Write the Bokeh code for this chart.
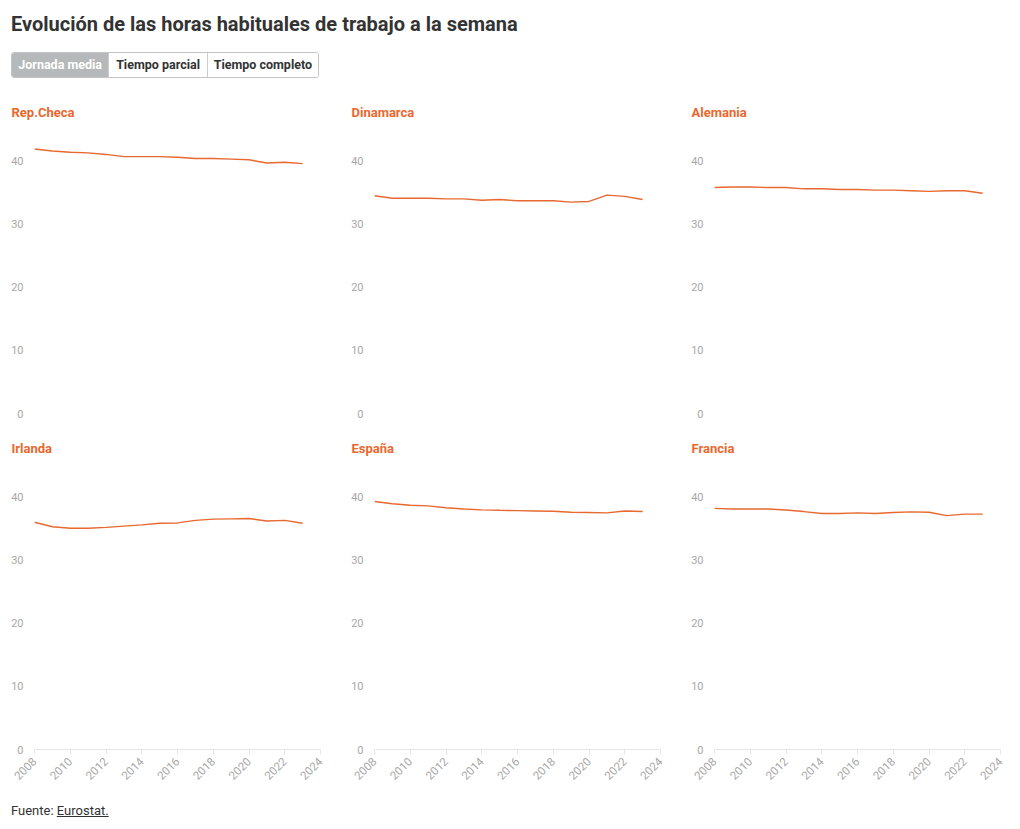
from bokeh.plotting import figure
from bokeh.layouts import column, row
from bokeh.models import Div, Range1d, FixedTicker
from bokeh.embed import file_html
from bokeh.resources import INLINE
import math

years = list(range(2008, 2024))
countries = ["Rep.Checa", "Dinamarca", "Alemania", "Irlanda", "España", "Francia"]
rep_checa = [41.9, 41.6, 41.4, 41.3, 41.05, 40.7, 40.7, 40.7, 40.6, 40.4, 40.4, 40.3, 40.2, 39.7, 39.8, 39.6]
dinamarca = [34.5, 34.1, 34.1, 34.1, 34.0, 34.0, 33.8, 33.9, 33.7, 33.7, 33.7, 33.5, 33.6, 34.6, 34.4, 33.9]
alemania = [35.8, 35.9, 35.9, 35.8, 35.8, 35.6, 35.6, 35.5, 35.5, 35.4, 35.4, 35.3, 35.2, 35.3, 35.3, 34.9]
irlanda = [36.0, 35.3, 35.05, 35.05, 35.2, 35.4, 35.6, 35.85, 35.9, 36.3, 36.5, 36.55, 36.6, 36.2, 36.3, 35.85]
espana = [39.3, 38.95, 38.7, 38.6, 38.3, 38.1, 37.97, 37.9, 37.85, 37.8, 37.75, 37.6, 37.55, 37.5, 37.8, 37.7]
francia = [38.2, 38.1, 38.1, 38.1, 37.95, 37.7, 37.4, 37.4, 37.5, 37.4, 37.55, 37.65, 37.6, 37.05, 37.3, 37.3]
series = [rep_checa, dinamarca, alemania, irlanda, espana, francia]
y_ticks = [0, 10, 20, 30, 40]
x_ticks = list(range(2008, 2025, 2))
buttons = ["Jornada media", "Tiempo parcial", "Tiempo completo"]
title_text = "Evolución de las horas habituales de trabajo a la semana"

ORANGE = "#e8682f"
GREY = "#a8a8a8"
FONT = "Roboto"


def make_panel(name, vals, bottom_row, last_col):
    w = 324 if last_col else 340
    h = 365 if bottom_row else 336
    p = figure(width=w, height=h, x_range=Range1d(2008, 2024), y_range=Range1d(0, 45),
               toolbar_location=None, output_backend="svg",
               min_border_left=26, min_border_right=12 if last_col else 28,
               min_border_top=34, min_border_bottom=45 if bottom_row else 16)
    p.outline_line_color = None
    p.xgrid.visible = False
    p.ygrid.visible = False
    p.background_fill_color = "white"
    p.border_fill_color = "white"
    p.title.text = name
    p.title.text_font = FONT
    p.title.text_font_size = "13px"
    p.title.text_font_style = "bold"
    p.title.text_color = ORANGE
    p.title.align = "left"
    p.title.offset = -23
    p.title.standoff = 19

    p.yaxis.ticker = FixedTicker(ticks=y_ticks)
    p.yaxis.axis_line_color = None
    p.yaxis.major_tick_line_color = None
    p.yaxis.minor_tick_line_color = None
    p.yaxis.major_tick_out = 0
    p.yaxis.major_label_standoff = 11
    p.yaxis.major_label_text_font = FONT
    p.yaxis.major_label_text_font_size = "11px"
    p.yaxis.major_label_text_color = GREY

    p.xaxis.ticker = FixedTicker(ticks=x_ticks)
    p.xaxis.axis_line_color = "#e6e6e6"
    p.xaxis.major_tick_line_color = "#e6e6e6"
    p.xaxis.minor_tick_line_color = None
    p.xaxis.major_tick_out = 5
    p.xaxis.major_tick_in = 0
    p.xaxis.major_label_standoff = 5
    p.xaxis.major_label_orientation = math.pi / 4
    p.xaxis.major_label_text_font = FONT
    p.xaxis.major_label_text_font_size = "11.5px"
    p.xaxis.major_label_text_color = GREY
    if not bottom_row:
        p.xaxis.visible = False

    p.line(years, vals, line_color=ORANGE, line_width=1.4)
    return p


panels = [make_panel(countries[i], series[i], i >= 3, i % 3 == 2) for i in range(6)]

title_div = Div(text=f'<div style="font-family:{FONT};font-weight:bold;font-size:20px;'
                     f'color:#333;line-height:32px;padding-left:3px;white-space:nowrap;">{title_text}</div>',
                width=1000, height=32, margin=0)

btn_widths = [97, 99, 112]
btn_html = ""
for i, (b, bw) in enumerate(zip(buttons, btn_widths)):
    active = i == 0
    bg = "#b5b9b9" if active else "#ffffff"
    col = "#ffffff" if active else "#333333"
    left = "" if i == 0 else "border-left:1px solid #cccccc;"
    btn_html += (f'<div style="display:inline-block;box-sizing:border-box;width:{bw}px;height:24px;'
                 f'line-height:24px;text-align:center;background:{bg};color:{col};{left}">{b}</div>')
buttons_div = Div(text=f'<div style="margin-top:12px;margin-left:3px;font-family:{FONT};font-weight:bold;'
                       f'font-size:12.5px;display:flex;border:1px solid #c4c4c4;border-radius:3px;'
                       f'overflow:hidden;width:308px;box-sizing:border-box;height:26px;">{btn_html}</div>',
                  width=1000, height=53, margin=0)

footer_div = Div(text=f'<div style="font-family:{FONT};font-size:13px;color:#333;padding-left:3px;'
                      f'padding-top:6px;line-height:22px;">Fuente: '
                      f'<span style="text-decoration:underline;">Eurostat.</span></div>',
                 width=1000, height=28, margin=0)

layout = column(title_div, buttons_div,
                row(panels[0], panels[1], panels[2]),
                row(panels[3], panels[4], panels[5]),
                footer_div, margin=(8, 0, 0, 8))

open("out.html", "w").write(file_html(layout, INLINE))
